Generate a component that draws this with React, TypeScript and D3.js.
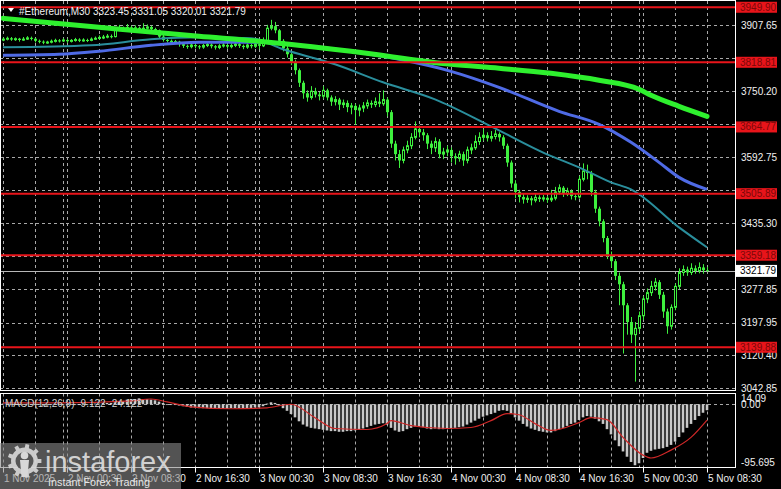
import React, { useEffect } from 'react';
import * as d3 from 'd3';

const W = 781;
const H = 489;
const FONT = "'Liberation Sans', Arial, Helvetica, sans-serif";

// ---- candle data (M30 bars, first = 1 Nov 16:30, last = 5 Nov 08:30)
const firstOpen = 3872;
const closes = [
  3874, 3876, 3873, 3875, 3872, 3874, 3877, 3875,
  3870, 3868, 3866, 3867, 3869,
  3871, 3870, 3872, 3869, 3871, 3873, 3870, 3872, 3871,
  3874, 3876, 3878, 3879, 3881, 3880,
  3896, 3900, 3898, 3902, 3899, 3901, 3897, 3900, 3903, 3898, 3895,
  3880, 3872, 3870, 3866, 3868,
  3862, 3858, 3856, 3860, 3857, 3855, 3859, 3861, 3857, 3854, 3858, 3860, 3856, 3859, 3862, 3858, 3855, 3860, 3857,
  3862, 3858, 3870, 3900, 3905, 3895,
  3870, 3852, 3838, 3820,
  3800, 3770, 3745,
  3735, 3750, 3742, 3738, 3752,
  3735, 3725, 3730, 3718, 3722, 3712, 3715, 3705,
  3710, 3715, 3722, 3718, 3725, 3720, 3730,
  3700, 3625,
  3600, 3585, 3610, 3620,
  3640, 3660, 3652, 3645,
  3625, 3615, 3630, 3600, 3605, 3610,
  3595, 3590, 3600, 3585, 3610, 3615,
  3630, 3640, 3645, 3638, 3642, 3648, 3640,
  3620, 3580, 3530, 3510,
  3498, 3492, 3495, 3490, 3497, 3493, 3496, 3491, 3495,
  3510, 3520, 3505, 3512, 3500, 3498,
  3540, 3560, 3555,
  3510, 3470, 3440,
  3400, 3360, 3345,
  3310, 3290,
  3240,
  3200, 3170, 3185, 3215, 3255,
  3270, 3285, 3295,
  3265, 3225, 3190,
  3235, 3285, 3318,
  3325, 3318, 3328, 3322, 3330, 3323.45, 3321.79,
];
const highs = [
  3878, 3880, 3879, 3878, 3877, 3879, 3881, 3880,
  3877, 3873, 3871, 3870, 3873,
  3875, 3874, 3876, 3875, 3874, 3877, 3876, 3876, 3875,
  3878, 3880, 3883, 3884, 3886, 3885,
  3900, 3908, 3904, 3910, 3906, 3907, 3904, 3912, 3909, 3906, 3901,
  3897, 3884, 3876, 3873, 3872,
  3870, 3865, 3861, 3864, 3863, 3860, 3863, 3866, 3864, 3860, 3862, 3865, 3863, 3864, 3867, 3865, 3861, 3864, 3863,
  3868, 3866, 3878, 3908, 3920, 3915,
  3898, 3874, 3858, 3842,
  3825, 3804, 3775,
  3752, 3762, 3758, 3748, 3762,
  3756, 3740, 3738, 3734, 3730, 3728, 3722, 3720,
  3718, 3724, 3730, 3728, 3735, 3745, 3752,
  3735, 3705,
  3632, 3610, 3618, 3632,
  3650, 3678, 3668, 3660,
  3650, 3632, 3640, 3636, 3615, 3620,
  3616, 3602, 3608, 3606, 3618, 3625,
  3645, 3652, 3660, 3652, 3655, 3658, 3652,
  3645, 3625, 3585, 3538,
  3515, 3505, 3502, 3500, 3505, 3502, 3503, 3500, 3515,
  3522, 3528, 3524, 3520, 3516, 3506,
  3548, 3578, 3575,
  3560, 3515, 3475,
  3445, 3405, 3368,
  3350, 3318,
  3296,
  3245, 3212, 3200, 3225, 3262,
  3280, 3298, 3305,
  3300, 3272, 3232,
  3242, 3292, 3328,
  3335, 3332, 3340, 3335, 3342, 3338, 3331.05,
];
const lows = [
  3869, 3871, 3870, 3870, 3868, 3870, 3872, 3871,
  3866, 3864, 3862, 3863, 3864,
  3866, 3866, 3867, 3865, 3866, 3868, 3867, 3868, 3867,
  3869, 3872, 3873, 3874, 3876, 3876,
  3878, 3893, 3894, 3895, 3895, 3896, 3893, 3894, 3897, 3894, 3890,
  3876, 3868, 3866, 3861, 3863,
  3856, 3853, 3851, 3852, 3852, 3850, 3851, 3855, 3852, 3849, 3850, 3854, 3851, 3852, 3855, 3853, 3850, 3851, 3852,
  3853, 3850, 3855, 3866, 3895, 3888,
  3862, 3845, 3830, 3812,
  3790, 3760, 3732,
  3725, 3730, 3735, 3728, 3732,
  3728, 3715, 3716, 3705, 3710, 3700, 3695, 3670,
  3690, 3700, 3708, 3710, 3712, 3712, 3715,
  3690, 3615,
  3585, 3567, 3578, 3602,
  3612, 3635, 3640, 3632,
  3612, 3600, 3605, 3590, 3588, 3595,
  3580, 3575, 3582, 3572, 3578, 3600,
  3610, 3622, 3632, 3630, 3630, 3635, 3630,
  3612, 3570, 3520, 3495,
  3485, 3482, 3484, 3478, 3485, 3486, 3487, 3484, 3486,
  3490, 3504, 3498, 3500, 3492, 3490,
  3494, 3535, 3540,
  3500, 3460, 3428,
  3390, 3350, 3330,
  3300, 3240,
  3125,
  3170, 3150, 3058, 3175, 3205,
  3245, 3262, 3275,
  3255, 3210, 3172,
  3182, 3228, 3278,
  3310, 3310, 3312, 3315, 3316, 3315, 3320.01,
];

// ---- moving averages (bar index, price)
const maGreenIdx = [0, 24, 49, 64, 87, 112, 124, 137, 149, 159, 162, 169, 176];
const maGreenVal = [3923.6, 3902.2, 3880.7, 3868.8, 3845, 3814, 3804.5, 3792.5, 3775.9, 3754.4, 3740.1, 3713.9, 3690.1];
const maBlueIdx = [0, 14, 24, 37, 49, 64, 74, 87, 99, 112, 124, 139, 149, 157, 164, 169, 176];
const maBlueVal = [3835.4, 3837.8, 3845, 3859.3, 3866.4, 3866.4, 3859.3, 3845, 3825.9, 3797.3, 3759.2, 3702, 3671, 3628.1, 3580.4, 3544.7, 3516.1];
const maTealIdx = [0, 22, 37, 49, 62, 70, 83, 95, 108, 122, 136, 144, 152, 157, 169, 176];
const maTealVal = [3854.5, 3859.3, 3873.6, 3878.3, 3876, 3849.7, 3814, 3771.1, 3730.6, 3666.3, 3599.6, 3568.6, 3532.8, 3516.1, 3425.6, 3378];

// ---- MACD
const macdHist = [
  1, 1, 0, 1, 0, 0, 1, 0, -1, -1, -2, -2, -1, -1, -1, 0, -1, -1, 0, 0, -1, 0, 0, 1, 1, 2, 2, 2,
  3, 4, 5, 7, 8, 8, 9, 8, 8, 7, 6,
  4, 2, 0, -1, -1,
  -2, -3, -4, -5, -5, -6, -6, -6, -7, -7, -7, -7, -7, -6, -6, -6, -6, -6, -6,
  -5, -5, -3, 1, 3, 2,
  -2, -6, -10, -15, -20, -26, -31, -34, -36, -37, -38, -39,
  -40, -41, -41, -42, -42, -41, -41, -40, -39, -37, -35,
  -33, -31, -30, -29,
  -31, -36, -40, -42,
  -41, -38, -36, -34, -34, -35, -37, -38, -37, -38, -38, -37,
  -37, -36, -35, -34, -31, -28, -25, -22, -19, -17, -15, -13,
  -10, -9, -10, -14,
  -20, -25, -30, -34, -37, -39, -41, -42, -43, -43,
  -41, -38, -36, -33, -30, -28, -24, -20, -18,
  -19, -22, -26,
  -30, -38, -46, -55, -64, -72, -80, -88, -93, -90,
  -82, -74, -71, -69, -68, -67, -65, -62, -57, -50, -43, -36, -30, -24, -18, -13, -9.122,
];
const signalIdx = [0, 14, 32, 37, 41, 47, 57, 66, 72, 78, 83, 91, 96, 97, 102, 111, 117, 122, 126, 129, 133, 137, 144, 147, 151, 155, 160, 162, 167, 172, 176];
const signalVal = [2, 2, 5, 8, 3.6, -3.9, -6.9, -5.4, 0, -20.5, -37, -38.5, -29.5, -25, -32.5, -37, -35.5, -25, -14.4, -16, -29.5, -40, -28, -20.5, -23.5, -50.5, -77.6, -82, -70, -50.5, -24.122];

// ---- axes / levels
const gridPrices = [3907.65, 3828.93, 3750.2, 3671.48, 3592.75, 3514.03, 3435.3, 3356.58, 3277.85, 3197.95, 3120.4, 3042.85];
const priceTickVals = [3907.65, 3750.2, 3592.75, 3435.3, 3277.85, 3197.95, 3120.4, 3042.85];
const priceTickLabels = ['3907.65', '3750.20', '3592.75', '3435.30', '3277.85', '3197.95', '3120.40', '3042.85'];
const levelPrices = [3949.9, 3818.81, 3664.77, 3505.89, 3359.18, 3139.88];
const levelLabels = ['3949.90', '3818.81', '3664.77', '3505.89', '3359.18', '3139.88'];
const lastPrice = 3321.79;
const lastPriceLabel = '3321.79';
const timeLabelIdx = [0, 16, 32, 48, 64, 80, 96, 112, 128, 144, 160, 176];
const timeLabels = ['1 Nov 2025', '2 Nov 00:30', '2 Nov 08:30', '2 Nov 16:30', '3 Nov 00:30', '3 Nov 08:30', '3 Nov 16:30', '4 Nov 00:30', '4 Nov 08:30', '4 Nov 16:30', '5 Nov 00:30', '5 Nov 08:30'];
const daySepIdx = [15, 63, 111, 159];
const titleText = '#Ethereum,M30  3323.45 3331.05 3320.01 3321.79';
const macdText = 'MACD(12,26,9) -9.122 -24.122';
const macdTickVals = [14.09, 0, -95.695];
const macdTickLabels = ['14.09', '0.00', '-95.695'];

// layout
const PLOT_R = 735.5;
const MAIN_B = 390.5;
const MACD_T = 393.5;
const MACD_B = 467.5;

const CANDLE = '#3ef03e';
const GRID = '#a8a8a8';

function gearPath(cx: number, cy: number, rOut: number, rIn: number, teeth: number) {
  const pts: [number, number][] = [];
  const step = (Math.PI * 2) / teeth;
  for (let t = 0; t < teeth; t++) {
    const a0 = t * step;
    const angs = [a0 - step * 0.22, a0 - step * 0.16, a0 + step * 0.16, a0 + step * 0.22];
    const rads = [rIn, rOut, rOut, rIn];
    angs.forEach((a, k) => pts.push([cx + Math.cos(a) * rads[k], cy + Math.sin(a) * rads[k]]));
    const a1 = a0 + step * 0.5;
    pts.push([cx + Math.cos(a1) * rIn, cy + Math.sin(a1) * rIn]);
  }
  return 'M' + pts.map((p) => p[0].toFixed(2) + ',' + p[1].toFixed(2)).join('L') + 'Z';
}

export default function App() {
  useEffect(() => {
    document.body.style.margin = '0';
    document.body.style.background = '#000';
  }, []);

  const x = d3.scaleLinear().domain([0, 176]).range([3, 707]);
  const y = d3.scaleLinear().domain([3042.85, 3907.65]).range([388, 25]);
  const ym = d3.scaleLinear().domain([-95.695, 14.09]).range([467, 395]);

  const opens = closes.map((c, i) => (i === 0 ? firstOpen : closes[i - 1]));

  const maLine = d3
    .line<[number, number]>()
    .x((d) => x(d[0]))
    .y((d) => y(d[1]))
    .curve(d3.curveMonotoneX);
  const sigLine = d3
    .line<[number, number]>()
    .x((d) => x(d[0]))
    .y((d) => ym(d[1]))
    .curve(d3.curveMonotoneX);

  const green = maLine(maGreenIdx.map((d, i) => [d, maGreenVal[i]]) as [number, number][]) || '';
  const blue = maLine(maBlueIdx.map((d, i) => [d, maBlueVal[i]]) as [number, number][]) || '';
  const teal = maLine(maTealIdx.map((d, i) => [d, maTealVal[i]]) as [number, number][]) || '';
  const signal = sigLine(signalIdx.map((d, i) => [d, signalVal[i]]) as [number, number][]) || '';

  const vGrid = d3.range(0, 177, 8);
  const zeroY = ym(0);

  return (
    <svg width={W} height={H} style={{ display: 'block', background: '#000' }} fontFamily={FONT}>
      <rect x={0} y={0} width={W} height={H} fill="#000" />

      {/* vertical grid */}
      {vGrid.map((i) => (
        <g key={'vg' + i}>
          <line x1={Math.round(x(i)) + 0.5} x2={Math.round(x(i)) + 0.5} y1={1} y2={MAIN_B} stroke={GRID} strokeDasharray="3,3" />
          <line x1={Math.round(x(i)) + 0.5} x2={Math.round(x(i)) + 0.5} y1={MACD_T} y2={MACD_B} stroke={GRID} strokeDasharray="3,3" />
        </g>
      ))}
      {daySepIdx.map((i) => (
        <g key={'ds' + i}>
          <line x1={Math.round(x(i)) + 0.5} x2={Math.round(x(i)) + 0.5} y1={1} y2={MAIN_B} stroke={GRID} strokeDasharray="3,3" />
          <line x1={Math.round(x(i)) + 0.5} x2={Math.round(x(i)) + 0.5} y1={MACD_T} y2={MACD_B} stroke={GRID} strokeDasharray="3,3" />
        </g>
      ))}
      {/* horizontal grid */}
      {gridPrices.map((p) => (
        <line key={'hg' + p} x1={0} x2={PLOT_R} y1={Math.round(y(p)) + 0.5} y2={Math.round(y(p)) + 0.5} stroke={GRID} strokeDasharray="3,3" />
      ))}
      <line x1={0} x2={PLOT_R} y1={Math.round(zeroY) + 0.5} y2={Math.round(zeroY) + 0.5} stroke={GRID} strokeDasharray="3,3" />

      {/* current price line */}
      <line x1={0} x2={PLOT_R} y1={Math.round(y(lastPrice)) + 0.5} y2={Math.round(y(lastPrice)) + 0.5} stroke="#b8b8b8" strokeWidth={1} />

      {/* candles */}
      {closes.map((c, i) => {
        const o = opens[i];
        const cx = Math.round(x(i));
        const yo = y(o);
        const yc = y(c);
        const top = Math.min(yo, yc);
        const h = Math.max(1, Math.abs(yo - yc));
        const bull = c >= o;
        return (
          <g key={'c' + i}>
            <line x1={cx + 0.5} x2={cx + 0.5} y1={y(highs[i])} y2={y(lows[i])} stroke={CANDLE} strokeWidth={1} />
            {bull ? (
              <rect x={cx - 0.5} y={top} width={2} height={h} fill="#000" stroke={CANDLE} strokeWidth={1} />
            ) : (
              <rect x={cx - 1} y={top} width={3} height={h} fill={CANDLE} />
            )}
          </g>
        );
      })}

      {/* moving averages */}
      <path d={teal} fill="none" stroke="#2a8e9c" strokeWidth={2} />
      <path d={blue} fill="none" stroke="#4f6be6" strokeWidth={3} />
      <path d={green} fill="none" stroke="#2ef02e" strokeWidth={5} strokeLinecap="round" />

      {/* MACD histogram */}
      {macdHist.map((v, i) => {
        const cx = x(i);
        const y0 = ym(0);
        const y1 = ym(v);
        return <rect key={'h' + i} x={cx - 1.3} y={Math.min(y0, y1)} width={2.6} height={Math.max(0.8, Math.abs(y1 - y0))} fill="#c8c8c8" />;
      })}
      <path d={signal} fill="none" stroke="#d02828" strokeWidth={1.2} />
      <text x={5} y={407} fontSize={10} fill="#d0d0d0">{macdText}</text>

      {/* horizontal levels */}
      {levelPrices.map((p, i) => (
        <g key={'lv' + i}>
          <line x1={0} x2={737} y1={y(p)} y2={y(p)} stroke="#e8141a" strokeWidth={2} />
        </g>
      ))}

      {/* frames */}
      <rect x={0.5} y={0.5} width={PLOT_R - 0.5} height={MAIN_B - 0.5} fill="none" stroke="#fff" strokeWidth={1} />
      <rect x={0.5} y={MACD_T} width={PLOT_R - 0.5} height={MACD_B - MACD_T} fill="none" stroke="#fff" strokeWidth={1} />

      {/* price axis labels */}
      {priceTickVals.map((p, i) => (
        <text key={'pt' + i} x={741} y={y(p) + 3.5} fontSize={10} fill="#f0f0f0">{priceTickLabels[i]}</text>
      ))}
      {levelPrices.map((p, i) => (
        <g key={'ll' + i}>
          <rect x={736} y={y(p) - 5.5} width={41} height={11} fill="#e8141a" />
          <text x={740} y={y(p) + 3.5} fontSize={10} fill="#7a0808">{levelLabels[i]}</text>
        </g>
      ))}
      <rect x={736} y={y(lastPrice) - 6} width={41} height={12} fill="#ffffff" />
      <text x={740} y={y(lastPrice) + 3.5} fontSize={10} fill="#000">{lastPriceLabel}</text>

      {/* MACD axis labels */}
      <text x={741} y={402} fontSize={10} fill="#f0f0f0">{macdTickLabels[0]}</text>
      <text x={741} y={ym(macdTickVals[1]) + 4} fontSize={10} fill="#f0f0f0">{macdTickLabels[1]}</text>
      <text x={741} y={ym(macdTickVals[2]) - 1.5} fontSize={10} fill="#f0f0f0">{macdTickLabels[2]}</text>

      {/* time axis */}
      {timeLabelIdx.map((i, k) => (
        <g key={'tl' + k}>
          <line x1={Math.round(x(i)) + 0.5} x2={Math.round(x(i)) + 0.5} y1={MACD_B} y2={MACD_B + 5} stroke="#fff" />
          <text x={Math.round(x(i)) + 1} y={482} fontSize={10} fill="#f0f0f0">{timeLabels[k]}</text>
        </g>
      ))}

      {/* title */}
      <polygon points="8,8 14,8 11,12" fill="#fff" />
      <text x={19} y={14.5} fontSize={10} fill="#f0f0f0">{titleText}</text>

      {/* watermark */}
      <g>
        <rect x={0} y={443} width={181} height={46} fill="#8a8a8a" opacity={0.6} />
        <path d={gearPath(24.5, 461, 17, 13.5, 9)} fill="#d8d8d8" opacity={0.9} />
        <circle cx={24.5} cy={461} r={9} fill="#555" />
        <circle cx={24.5} cy={455.5} r={3.8} fill="#d8d8d8" />
        <path d="M20,460 L29,460 L27.5,477 L21.5,477 Z" fill="#d8d8d8" />
        <text x={45} y={472} fontSize={29} fill="#dcdcdc" opacity={0.92}>instaforex</text>
        <text x={48} y={486} fontSize={10.8} fill="#e6e6e6">Instant Forex Trading</text>
      </g>
    </svg>
  );
}
